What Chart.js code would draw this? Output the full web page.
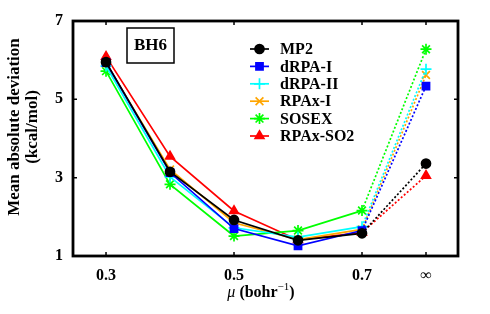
<!DOCTYPE html>
<html>
<head>
<meta charset="utf-8">
<title>BH6 mean absolute deviation</title>
<script src="https://cdn.jsdelivr.net/npm/chart.js@4.4.0/dist/chart.umd.min.js"></script>
<style>
  html, body { margin: 0; padding: 0; background: #fff; }
  #wrap { width: 490px; height: 314px; }
</style>
</head>
<body>
<div id="wrap"><canvas id="mad-chart" width="490" height="314"></canvas></div>
<script>
// Data (mu = 0.8 is where the "infinity" column sits)
const muValues = [0.3, 0.4, 0.5, 0.6, 0.7, 0.8];
const xTickValues = [0.3, 0.5, 0.7, 0.8];
const xTickLabels = ['0.3', '0.5', '0.7', '\u221E'];
const yTickValues = [1, 3, 5, 7];

const methodNames = ['MP2', 'dRPA-I', 'dRPA-II', 'RPAx-I', 'SOSEX', 'RPAx-SO2'];
const mp2     = [5.95, 3.15, 1.92, 1.40, 1.58, 3.36];
const drpaI   = [5.94, 3.13, 1.70, 1.26, 1.65, 5.34];
const drpaII  = [5.85, 3.02, 1.72, 1.48, 1.75, 5.77];
const rpaxI   = [5.92, 3.21, 1.85, 1.42, 1.68, 5.62];
const sosex   = [5.72, 2.83, 1.51, 1.65, 2.16, 6.28];
const rpaxSO2 = [6.09, 3.54, 2.15, 1.41, 1.60, 3.05];

const seriesValues = [mp2, drpaI, drpaII, rpaxI, sosex, rpaxSO2];
const colors = ['#000000', '#0000ff', '#00ffff', '#ffa500', '#00ff00', '#ff0000'];
const markers = ['circle', 'rect', 'cross', 'crossRot', 'star', 'triangle'];
const markerSizes = [4.5, 5, 5.5, 5.5, 5.5, 5];

const FONT = '"Liberation Serif", "DejaVu Serif", serif';

const datasets = methodNames.map((name, i) => ({
    label: name,
    data: muValues.map((mu, j) => ({ x: mu, y: seriesValues[i][j] })),
    borderColor: colors[i],
    backgroundColor: colors[i],
    borderWidth: 1.7,
    pointStyle: markers[i],
    pointRadius: markerSizes[i],
    pointBorderWidth: 1.7,
    pointBorderColor: colors[i],
    pointBackgroundColor: colors[i],
    tension: 0,
    // last piece (0.7 -> infinity) is dotted
    segment: {
        borderDash: ctx => ctx.p1DataIndex === muValues.length - 1 ? [2, 2] : undefined
    }
}));

// Frame, inward ticks, label box, legend and axis titles
const decorations = {
    id: 'decorations',
    afterDraw(chart) {
        const ctx = chart.ctx;
        const area = chart.chartArea;
        const xs = chart.scales.x;
        const ys = chart.scales.y;
        ctx.save();

        // inward ticks
        ctx.strokeStyle = '#000';
        ctx.lineWidth = 1.5;
        ctx.beginPath();
        xTickValues.forEach(v => {
            const px = xs.getPixelForValue(v);
            ctx.moveTo(px, area.bottom); ctx.lineTo(px, area.bottom - 4);
            ctx.moveTo(px, area.top); ctx.lineTo(px, area.top + 4);
        });
        yTickValues.forEach(v => {
            const py = ys.getPixelForValue(v);
            ctx.moveTo(area.left, py); ctx.lineTo(area.left + 4, py);
            ctx.moveTo(area.right, py); ctx.lineTo(area.right - 4, py);
        });
        ctx.stroke();

        // frame
        ctx.lineWidth = 2.8;
        ctx.strokeRect(area.left, area.top, area.right - area.left, area.bottom - area.top);

        // BH6 label box
        ctx.lineWidth = 1.5;
        ctx.strokeRect(127, 28, 47, 35);
        ctx.fillStyle = '#000';
        ctx.font = 'bold 17px ' + FONT;
        ctx.textAlign = 'center';
        ctx.textBaseline = 'middle';
        ctx.fillText('BH6', 150.5, 46);

        // legend
        ctx.font = 'bold 16px ' + FONT;
        ctx.textAlign = 'left';
        chart.data.datasets.forEach((ds, i) => {
            const y = 49 + i * 17.4;
            ctx.strokeStyle = ds.borderColor;
            ctx.lineWidth = 1.7;
            ctx.setLineDash([]);
            ctx.beginPath();
            ctx.moveTo(250, y); ctx.lineTo(269, y);
            ctx.stroke();
            Chart.helpers.drawPoint(ctx, {
                pointStyle: ds.pointStyle,
                radius: ds.pointRadius,
                rotation: 0,
                borderWidth: 1.7
            }, 259.5, y);
            ctx.fillStyle = ds.borderColor;
            ctx.fill();
            ctx.fillStyle = '#000';
            ctx.fillText(ds.label, 280, y + 1);
        });

        // y axis title (two lines)
        ctx.save();
        ctx.translate(15, 127);
        ctx.rotate(-Math.PI / 2);
        ctx.textAlign = 'center';
        ctx.textBaseline = 'middle';
        ctx.font = 'bold 17px ' + FONT;
        ctx.fillText('Mean absolute deviation', 0, 0);
        ctx.fillText('(kcal/mol)', 0, 18);
        ctx.restore();

        // x axis title: italic mu, bold unit with superscript
        ctx.textBaseline = 'alphabetic';
        ctx.textAlign = 'left';
        const base = 297;
        const parts = [
            { t: '\u03BC ', f: 'italic 16px ' + FONT, dy: 0 },
            { t: '(bohr', f: 'bold 16px ' + FONT, dy: 0 },
            { t: '\u22121', f: '11px ' + FONT, dy: -7 },
            { t: ')', f: 'bold 16px ' + FONT, dy: 0 }
        ];
        let total = 0;
        parts.forEach(p => { ctx.font = p.f; total += ctx.measureText(p.t).width; });
        let x = 261 - total / 2;
        parts.forEach(p => {
            ctx.font = p.f;
            ctx.fillText(p.t, x, base + p.dy);
            x += ctx.measureText(p.t).width;
        });

        ctx.restore();
    }
};

const ctx = document.getElementById('mad-chart').getContext('2d');
const madChart = new Chart(ctx, {
    type: 'line',
    data: { datasets },
    options: {
        responsive: false,
        animation: false,
        layout: { padding: { top: 21, right: 32, left: 0, bottom: 0 } },
        plugins: {
            legend: { display: false },
            tooltip: { enabled: false }
        },
        scales: {
            x: {
                type: 'linear',
                min: 0.2484,
                max: 0.85,
                afterBuildTicks: scale => {
                    scale.ticks = xTickValues.map(v => ({ value: v }));
                },
                afterFit: scale => { scale.height = 58; },
                grid: { display: false, drawTicks: false },
                border: { display: false },
                ticks: {
                    padding: 10,
                    color: '#000',
                    maxRotation: 0,
                    font: { family: FONT, size: 16, weight: 'bold' },
                    callback: value => xTickLabels[xTickValues.indexOf(value)]
                }
            },
            y: {
                min: 1,
                max: 7,
                afterBuildTicks: scale => {
                    scale.ticks = yTickValues.map(v => ({ value: v }));
                },
                afterFit: scale => { scale.width = 73; },
                grid: { display: false, drawTicks: false },
                border: { display: false },
                ticks: {
                    padding: 10,
                    color: '#000',
                    font: { family: FONT, size: 16, weight: 'bold' }
                }
            }
        }
    },
    plugins: [decorations]
});
</script>
</body>
</html>
